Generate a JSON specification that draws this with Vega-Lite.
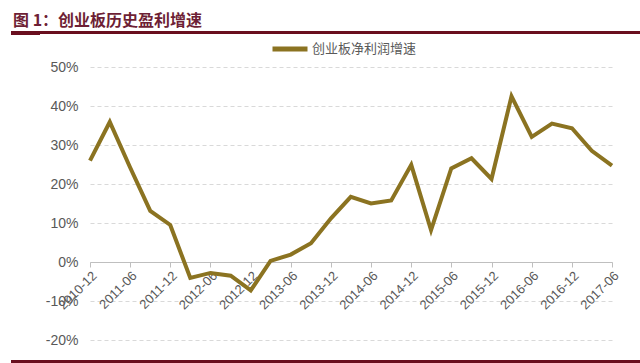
{
  "$schema": "https://vega.github.io/schema/vega-lite/v6.json",
  "width": 522,
  "height": 273,
  "autosize": "none",
  "padding": {"left": 90, "top": 67, "right": 28, "bottom": 23},
  "background": "white",
  "title": {
    "text": "图 1：创业板历史盈利增速",
    "anchor": "start",
    "frame": "group",
    "dx": -77,
    "offset": 0,
    "color": "#6E1F35",
    "font": "Noto Sans CJK SC",
    "fontSize": 16,
    "fontWeight": "bold"
  },
  "config": {"view": {"stroke": null}},
  "resolve": {"axis": {"x": "independent", "y": "independent"}},
  "data": {
    "values": [
      {"date": "2010-12-01", "v": 26.0},
      {"date": "2011-03-01", "v": 35.9},
      {"date": "2011-06-01", "v": 24.3},
      {"date": "2011-09-01", "v": 13.1},
      {"date": "2011-12-01", "v": 9.5},
      {"date": "2012-03-01", "v": -4.1},
      {"date": "2012-06-01", "v": -2.8},
      {"date": "2012-09-01", "v": -3.5},
      {"date": "2012-12-01", "v": -7.3},
      {"date": "2013-03-01", "v": 0.3},
      {"date": "2013-06-01", "v": 1.9},
      {"date": "2013-09-01", "v": 4.8},
      {"date": "2013-12-01", "v": 11.2},
      {"date": "2014-03-01", "v": 16.7},
      {"date": "2014-06-01", "v": 15.0},
      {"date": "2014-09-01", "v": 15.8},
      {"date": "2014-12-01", "v": 24.9},
      {"date": "2015-03-01", "v": 8.2},
      {"date": "2015-06-01", "v": 24.0},
      {"date": "2015-09-01", "v": 26.6},
      {"date": "2015-12-01", "v": 21.3},
      {"date": "2016-03-01", "v": 42.5},
      {"date": "2016-06-01", "v": 32.1},
      {"date": "2016-09-01", "v": 35.5},
      {"date": "2016-12-01", "v": 34.3},
      {"date": "2017-03-01", "v": 28.5},
      {"date": "2017-06-01", "v": 24.7}
    ]
  },
  "layer": [
    {
      "mark": {"type": "line", "strokeWidth": 4},
      "encoding": {
        "x": {
          "field": "date",
          "type": "temporal",
          "scale": {
            "type": "utc",
            "nice": false,
            "domain": [
              {"year": 2010, "month": 12, "date": 1, "utc": true},
              {"year": 2017, "month": 6, "date": 1, "utc": true}
            ]
          },
          "axis": {
            "title": null,
            "orient": "bottom",
            "offset": -78,
            "grid": false,
            "values": [
              {"year": 2010, "month": 12, "date": 1, "utc": true},
              {"year": 2011, "month": 6, "date": 1, "utc": true},
              {"year": 2011, "month": 12, "date": 1, "utc": true},
              {"year": 2012, "month": 6, "date": 1, "utc": true},
              {"year": 2012, "month": 12, "date": 1, "utc": true},
              {"year": 2013, "month": 6, "date": 1, "utc": true},
              {"year": 2013, "month": 12, "date": 1, "utc": true},
              {"year": 2014, "month": 6, "date": 1, "utc": true},
              {"year": 2014, "month": 12, "date": 1, "utc": true},
              {"year": 2015, "month": 6, "date": 1, "utc": true},
              {"year": 2015, "month": 12, "date": 1, "utc": true},
              {"year": 2016, "month": 6, "date": 1, "utc": true},
              {"year": 2016, "month": 12, "date": 1, "utc": true},
              {"year": 2017, "month": 6, "date": 1, "utc": true}
            ],
            "labelExpr": "utcFormat(datum.value, '%Y-%m')",
            "labelAngle": -45,
            "labelFont": "Liberation Sans",
            "labelFontSize": 13,
            "labelColor": "#595959",
            "labelPadding": 2,
            "labelOverlap": false,
            "domainColor": "#BFBFBF",
            "tickColor": "#BFBFBF",
            "tickSize": 5
          }
        },
        "y": {
          "field": "v",
          "type": "quantitative",
          "scale": {"domain": [-20, 50], "nice": false},
          "axis": {
            "title": null,
            "values": [-20, -10, 0, 10, 20, 30, 40, 50],
            "labelExpr": "datum.value + '%'",
            "labelOverlap": false,
            "domain": false,
            "ticks": false,
            "grid": true,
            "gridColor": "#D9D9D9",
            "gridDash": [4, 3],
            "labelPadding": 12,
            "labelFont": "Liberation Sans",
            "labelFontSize": 14,
            "labelColor": "#595959"
          }
        },
        "color": {
          "datum": "创业板净利润增速",
          "scale": {"range": ["#8B7321"]},
          "legend": {
            "title": null,
            "orient": "none",
            "legendX": 180,
            "legendY": -38,
            "symbolType": "stroke",
            "symbolSize": 1225,
            "symbolStrokeWidth": 5,
            "labelFont": "Noto Sans CJK SC",
            "labelFontSize": 13,
            "labelColor": "#595959",
            "labelOffset": 2
          }
        }
      }
    },
    {
      "mark": {"type": "rule", "color": "#6A0F1F", "strokeWidth": 2},
      "encoding": {
        "x": {"datum": {"year": 2009, "month": 12, "date": 7, "utc": true}, "type": "temporal", "axis": null},
        "x2": {"datum": {"year": 2018, "month": 1, "date": 1, "utc": true}},
        "y": {"datum": 58.9, "type": "quantitative", "axis": null}
      }
    },
    {
      "mark": {"type": "rule", "color": "#6A0F1F", "strokeWidth": 3.5},
      "encoding": {
        "x": {"datum": {"year": 2009, "month": 12, "date": 7, "utc": true}, "type": "temporal", "axis": null},
        "x2": {"datum": {"year": 2010, "month": 4, "date": 15, "utc": true}},
        "y": {"datum": 58.75, "type": "quantitative", "axis": null}
      }
    },
    {
      "mark": {"type": "rule", "color": "#6A0F1F", "strokeWidth": 2.5},
      "encoding": {
        "x": {"datum": {"year": 2009, "month": 12, "date": 7, "utc": true}, "type": "temporal", "axis": null},
        "x2": {"datum": {"year": 2018, "month": 1, "date": 1, "utc": true}},
        "y": {"datum": -25.5, "type": "quantitative", "axis": null}
      }
    }
  ]
}
